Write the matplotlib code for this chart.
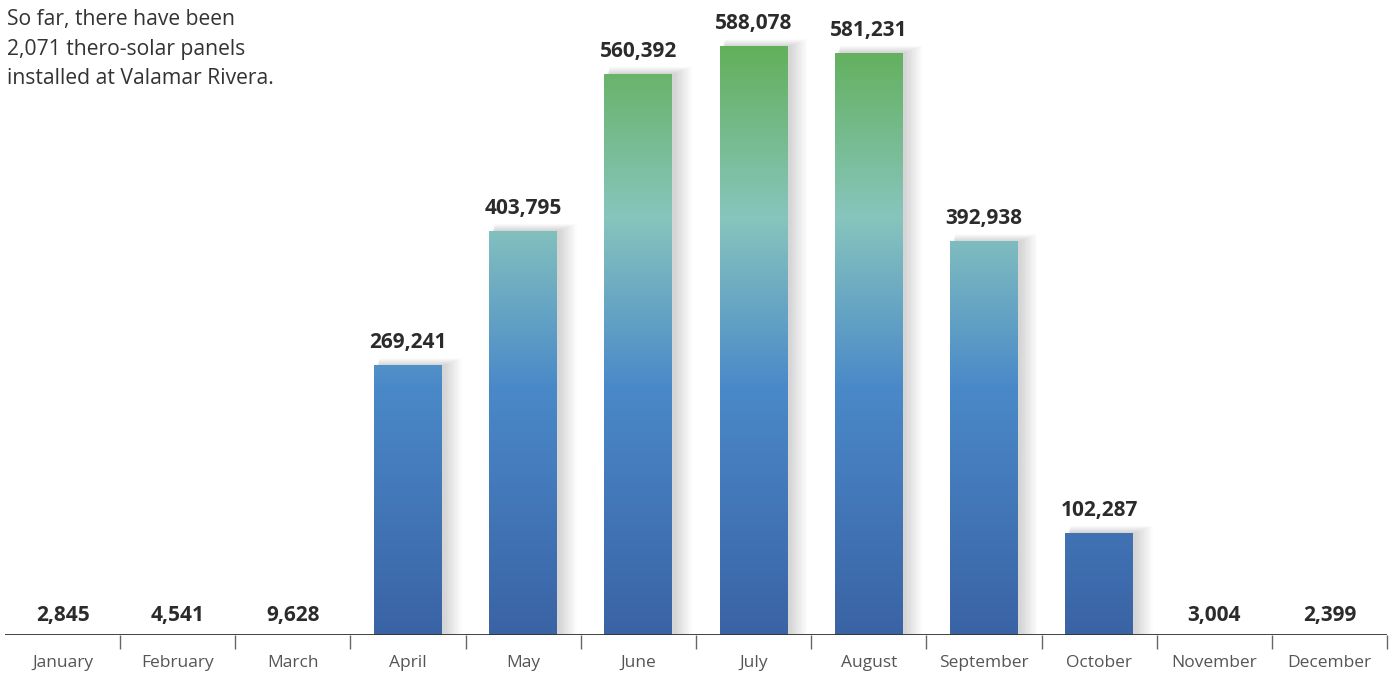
import numpy as np
import matplotlib
matplotlib.use("Agg")
import matplotlib.pyplot as plt
from matplotlib.colors import LinearSegmentedColormap
from matplotlib.patches import Rectangle

months = ["January", "February", "March", "April", "May", "June", "July",
          "August", "September", "October", "November", "December"]
values = [2845, 4541, 9628, 269241, 403795, 560392, 588078, 581231,
          392938, 102287, 3004, 2399]
note_lines = ["So far, there have been", "2,071 thero-solar panels",
              "installed at Valamar Rivera."]

plt.rcParams['font.family'] = ['Open Sans', 'DejaVu Sans']

W, H = 1395, 675
fig = plt.figure(figsize=(W / 100, H / 100), dpi=100)
base_px = 635
ax = fig.add_axes([5 / W, (H - base_px) / H, (1387 - 5) / W, base_px / H])

vmax = max(values)
ymax = vmax * base_px / 589.0
ax.set_xlim(-0.5, len(months) - 0.5)
ax.set_ylim(0, ymax)

cmap = LinearSegmentedColormap.from_list(
    "solar",
    [(0.0, "#3a63a5"), (0.42, "#4a89c9"), (0.71, "#87c5bd"), (1.0, "#62b05b")])

grad = np.linspace(0, 1, 512).reshape(-1, 1)
bar_w = 0.59
px_x = 1.0 / 115.2          # data units per pixel (x)
px_y = ymax / base_px       # data units per pixel (y)

x = np.arange(len(months))
for xi, v in zip(x, values):
    shown = v >= 0.02 * vmax   # tiny bars are not visible in the original
    top = v if shown else 0
    if shown:
        # soft shadow, mostly to the right
        for k in range(1, 15):
            sh = Rectangle((xi - bar_w / 2 + 2 * px_x + k * px_x * 0.25, 0),
                           bar_w + k * px_x * 1.0,
                           v + k * px_y * 0.5,
                           facecolor="black", edgecolor="none",
                           alpha=0.011, zorder=1)
            ax.add_patch(sh)
        rect = Rectangle((xi - bar_w / 2, 0), bar_w, v, facecolor="none",
                         edgecolor="none", zorder=2)
        ax.add_patch(rect)
        im = ax.imshow(grad, cmap=cmap, aspect="auto", origin="lower",
                       extent=(xi - bar_w / 2, xi + bar_w / 2, 0, vmax),
                       zorder=2, interpolation="bilinear")
        im.set_clip_path(rect)
        off = 12
    else:
        off = 9
    ax.text(xi, top + off * px_y, f"{v:,}", ha="center", va="bottom",
            fontsize=15, fontweight="bold", color="#2b2b2b", zorder=3)

for s in ax.spines.values():
    s.set_visible(False)
ax.axhline(0, color="#333333", lw=1.3, zorder=4)
ax.set_xticks(np.arange(0.5, len(months) - 0.5 + 0.01, 1.0))
ax.set_xticklabels([])
ax.tick_params(axis="x", direction="out", length=10, width=1, color="#666666")
ax.set_yticks([])
for xi, m in zip(x, months):
    ax.text(xi, -28 * px_y, m, ha="center", va="center", fontsize=12.5,
            color="#555555")
ax.set_xlim(-0.5, len(months) - 0.5)
ax.set_ylim(0, ymax)

for i, line in enumerate(note_lines):
    fig.text(7 / W, 1 - (19 + 30 * i) / H, line, ha="left", va="center",
             fontsize=15.2, color="#333333")

fig.savefig("out.png", dpi=100, facecolor="white")
